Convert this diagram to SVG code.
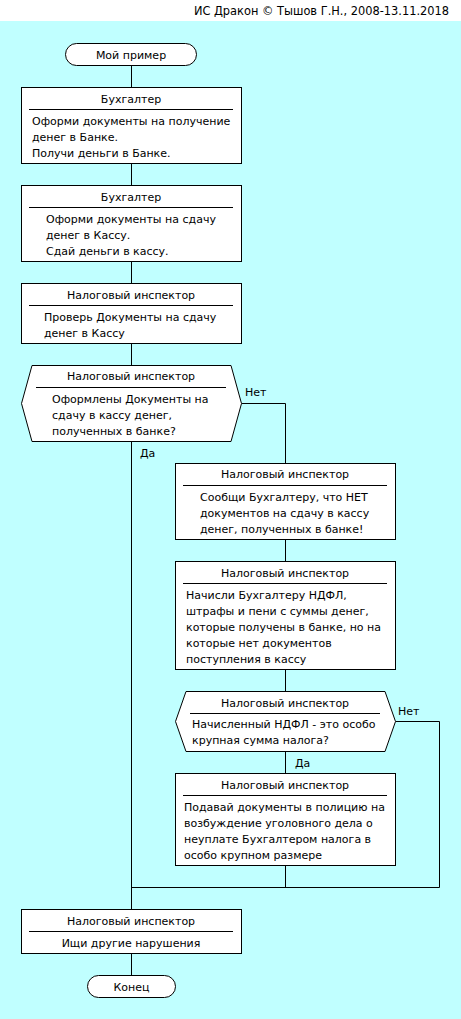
<svg xmlns="http://www.w3.org/2000/svg" width="461" height="1019" viewBox="0 0 461 1019">
<style>
text{font-family:"DejaVu Sans","Liberation Sans",sans-serif;font-size:11px;fill:#000}
.c{text-anchor:middle}
.hdr{font-size:11.4px;text-anchor:end}
.shape{fill:#fff;stroke:#000;stroke-width:1}
.sep{stroke:#000;stroke-width:1}
.ln{fill:none;stroke:#000;stroke-width:1}
</style>
<rect x="0" y="0" width="461" height="1019" fill="#C0FFFF"/>
<rect x="0" y="0" width="461" height="21" fill="#fff"/>
<text class="hdr" x="449" y="15">ИС Дракон © Тышов Г.Н., 2008-13.11.2018</text>
<g id="connectors">
<path class="ln" d="M131.5,65 V975.5"/>
<path class="ln" d="M241.5,403.5 H285.5 V463.5"/>
<path class="ln" d="M285.5,539.5 V561.5"/>
<path class="ln" d="M285.5,669.5 V691.5"/>
<path class="ln" d="M285.5,751 V773.5"/>
<path class="ln" d="M395.5,721.5 H439.5 V887.5 H131.5"/>
<path class="ln" d="M285.5,865.5 V887.5"/>
<text x="245" y="396">Нет</text>
<text x="140" y="457">Да</text>
<text x="398" y="715">Нет</text>
<text x="295" y="767">Да</text>
</g>
<g id="start">
<rect class="shape" x="65.5" y="43.5" width="131" height="22" rx="11"/>
<text class="c" x="131" y="59">Мой пример</text>
</g>
<g id="box1">
<rect class="shape" x="21.5" y="87.5" width="220" height="76"/>
<line class="sep" x1="29" y1="109.5" x2="233" y2="109.5"/>
<text class="c" x="131" y="103">Бухгалтер</text>
<text x="32" y="125">Оформи документы на получение</text>
<text x="32" y="141">денег в Банке.</text>
<text x="32" y="157">Получи деньги в Банке.</text>
</g>
<g id="box2">
<rect class="shape" x="21.5" y="185.5" width="220" height="76"/>
<line class="sep" x1="29" y1="207.5" x2="233" y2="207.5"/>
<text class="c" x="131" y="201">Бухгалтер</text>
<text x="46" y="223">Оформи документы на сдачу</text>
<text x="46" y="239">денег в Кассу.</text>
<text x="46" y="255">Сдай деньги в кассу.</text>
</g>
<g id="box3">
<rect class="shape" x="21.5" y="283.5" width="220" height="60"/>
<line class="sep" x1="29" y1="305.5" x2="233" y2="305.5"/>
<text class="c" x="131" y="299">Налоговый инспектор</text>
<text x="44" y="321">Проверь Документы на сдачу</text>
<text x="44" y="337">денег в Кассу</text>
</g>
<g id="decision1">
<polygon class="shape" points="32,365.5 231,365.5 241.5,403.5 231,441.5 32,441.5 21.5,403.5"/>
<line class="sep" x1="36" y1="387.5" x2="226" y2="387.5"/>
<text class="c" x="131" y="380">Налоговый инспектор</text>
<text x="52" y="403">Оформлены Документы на</text>
<text x="52" y="419">сдачу в кассу денег,</text>
<text x="52" y="435">полученных в банке?</text>
</g>
<g id="box4">
<rect class="shape" x="175.5" y="463.5" width="220" height="76"/>
<line class="sep" x1="183" y1="485.5" x2="387" y2="485.5"/>
<text class="c" x="285" y="478">Налоговый инспектор</text>
<text x="200" y="501">Сообщи Бухгалтеру, что НЕТ</text>
<text x="200" y="517">документов на сдачу в кассу</text>
<text x="200" y="533">денег, полученных в банке!</text>
</g>
<g id="box5">
<rect class="shape" x="175.5" y="561.5" width="220" height="108"/>
<line class="sep" x1="183" y1="583.5" x2="387" y2="583.5"/>
<text class="c" x="285" y="577">Налоговый инспектор</text>
<text x="186" y="599">Начисли Бухгалтеру НДФЛ,</text>
<text x="186" y="615">штрафы и пени с суммы денег,</text>
<text x="186" y="631">которые получены в банке, но на</text>
<text x="186" y="647">которые нет документов</text>
<text x="186" y="663">поступления в кассу</text>
</g>
<g id="decision2">
<polygon class="shape" points="186,691.5 385,691.5 395.5,721.5 385,751.5 186,751.5 175.5,721.5"/>
<line class="sep" x1="190" y1="713.5" x2="380" y2="713.5"/>
<text class="c" x="285" y="707">Налоговый инспектор</text>
<text x="192" y="728">Начисленный НДФЛ - это особо</text>
<text x="192" y="744">крупная сумма налога?</text>
</g>
<g id="box6">
<rect class="shape" x="175.5" y="773.5" width="220" height="92"/>
<line class="sep" x1="183" y1="795.5" x2="387" y2="795.5"/>
<text class="c" x="285" y="789">Налоговый инспектор</text>
<text x="184" y="811">Подавай документы в полицию на</text>
<text x="184" y="827">возбуждение уголовного дела о</text>
<text x="184" y="843">неуплате Бухгалтером налога в</text>
<text x="184" y="859">особо крупном размере</text>
</g>
<g id="box7">
<rect class="shape" x="21.5" y="909.5" width="220" height="44"/>
<line class="sep" x1="29" y1="931.5" x2="233" y2="931.5"/>
<text class="c" x="131" y="925">Налоговый инспектор</text>
<text class="c" x="131" y="947">Ищи другие нарушения</text>
</g>
<g id="end">
<rect class="shape" x="87.5" y="975.5" width="88" height="22" rx="11"/>
<text class="c" x="131.5" y="991">Конец</text>
</g>
</svg>
